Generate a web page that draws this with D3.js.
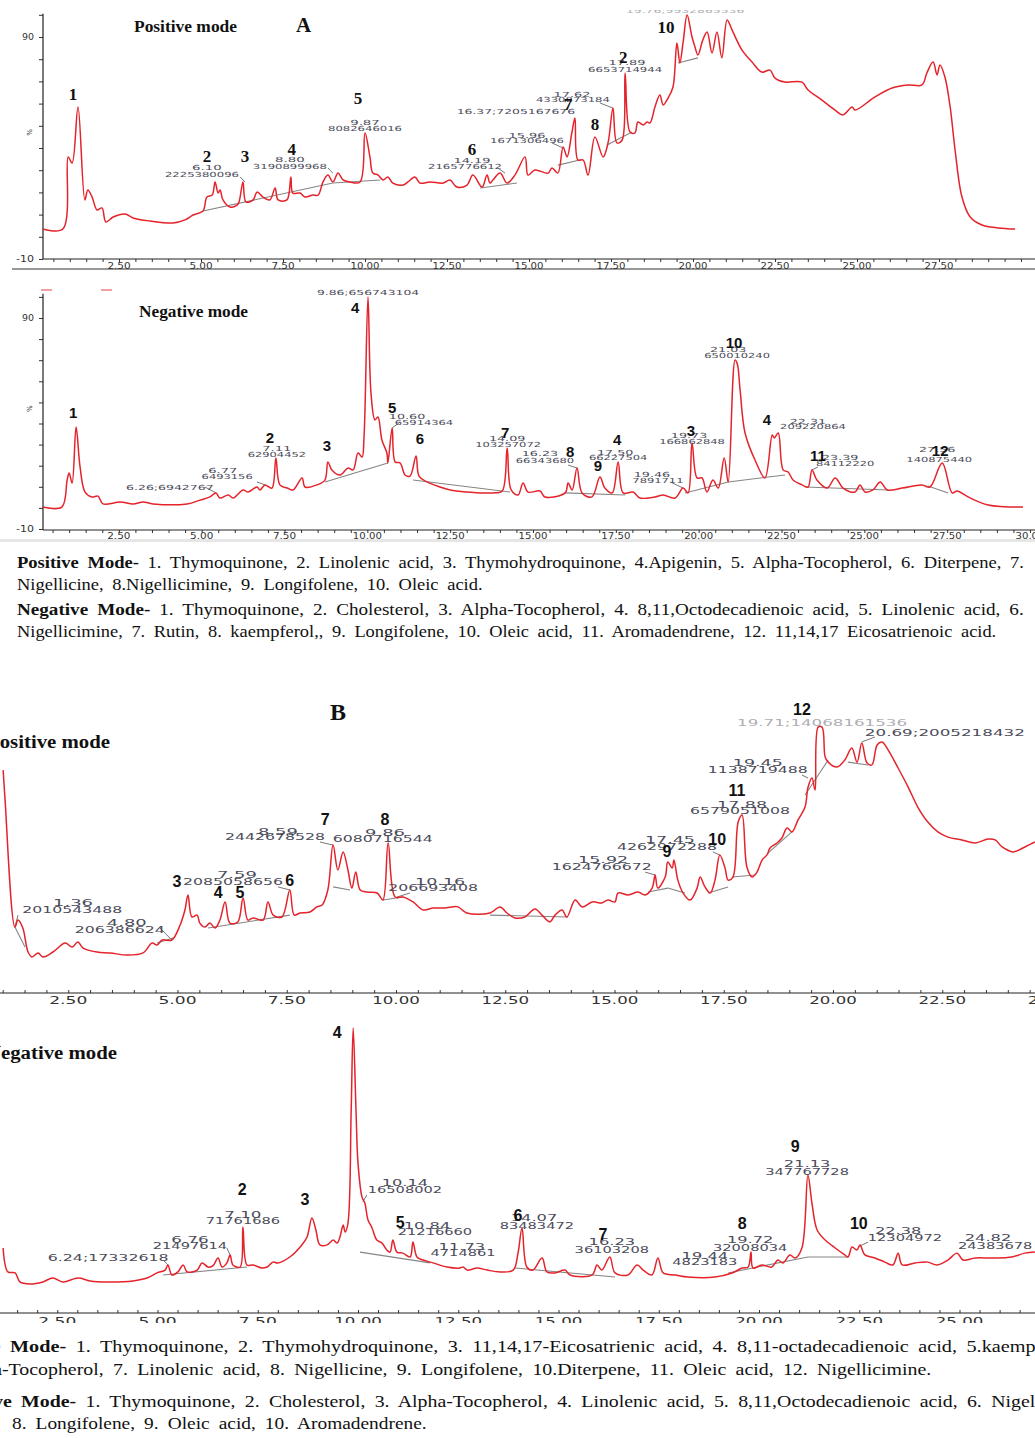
<!DOCTYPE html>
<html><head><meta charset="utf-8">
<script src="https://cdn.jsdelivr.net/npm/d3@7"></script>
<style>body{margin:0;background:#fff} svg{display:block}</style>
</head><body>
<svg id="c" width="1035" height="1438"></svg>
<script>
// ---------------- DATA ----------------
const xTickValues = [2.5,5,7.5,10,12.5,15,17.5,20,22.5,25,27.5,30];

// Panel A, positive mode  [time (min), relative intensity %]
const posATrace = [[0.18,3.5],[0.79,3.5],[0.95,36.0],[1.07,33.2],[1.25,58.5],[1.46,16.6],[1.55,21.1],[1.68,17.9],[1.83,12.1],[1.98,13.0],[2.10,6.7],[2.32,8.9],[2.68,10.3],[2.93,8.5],[3.45,7.1],[4.15,6.2],[4.51,7.6],[4.76,9.8],[5.06,11.6],[5.18,17.9],[5.34,18.8],[5.43,24.7],[5.52,19.7],[5.58,21.1],[5.67,16.6],[5.88,13.4],[6.10,14.3],[6.16,15.7],[6.28,24.7],[6.37,15.7],[6.59,16.6],[6.71,20.2],[6.89,17.9],[7.10,16.6],[7.26,22.0],[7.35,16.6],[7.62,16.6],[7.74,26.9],[7.80,19.7],[8.02,19.7],[8.17,17.9],[8.41,18.8],[8.57,18.8],[8.72,24.7],[8.87,27.8],[9.02,24.7],[9.18,28.7],[9.33,25.6],[9.54,24.7],[9.85,24.7],[10.00,46.8],[10.15,36.0],[10.24,28.7],[10.40,27.8],[10.55,25.6],[10.70,26.9],[10.85,24.2],[11.16,23.3],[11.31,24.7],[11.52,26.9],[11.68,24.2],[11.98,24.7],[12.38,24.2],[12.59,25.6],[12.80,22.4],[13.11,23.3],[13.29,27.8],[13.57,22.4],[13.72,27.8],[13.81,24.2],[13.90,25.6],[14.12,28.7],[14.33,24.2],[14.57,27.8],[14.88,36.0],[14.97,27.8],[15.18,30.1],[15.58,28.7],[15.70,31.0],[15.88,28.7],[16.04,40.5],[16.16,36.0],[16.31,47.2],[16.40,53.5],[16.49,34.6],[16.65,34.6],[16.80,27.8],[17.01,45.0],[17.26,36.0],[17.41,42.3],[17.56,58.0],[17.68,42.3],[17.84,43.6],[17.93,73.8],[18.08,47.2],[18.23,46.8],[18.32,51.7],[18.48,50.4],[18.60,51.7],[18.69,51.3],[18.84,58.5],[18.99,63.9],[19.09,59.4],[19.24,62.5],[19.39,67.5],[19.51,87.3],[19.60,78.3],[19.70,87.8],[19.82,99.9],[19.97,90.0],[20.06,85.5],[20.15,81.9],[20.30,88.7],[20.43,92.3],[20.58,82.8],[20.73,92.3],[20.88,80.6],[21.04,97.7],[21.19,93.2],[21.49,84.2],[21.80,78.7],[22.10,74.2],[22.35,75.1],[22.50,71.5],[22.80,69.7],[23.32,69.7],[23.51,66.1],[23.93,61.6],[24.33,57.1],[24.57,54.9],[24.85,58.5],[24.94,57.1],[25.55,63.0],[26.07,67.0],[26.55,68.4],[26.98,68.4],[27.13,73.8],[27.32,78.7],[27.44,72.9],[27.53,77.4],[27.68,72.0],[27.84,58.5],[27.99,39.1],[28.20,17.9],[28.45,8.9],[28.81,5.3],[29.30,4.0],[29.82,3.5]];
const posABase = [[5.06,11.6,9.02,24.2],[9.02,24.2,10.46,25.6],[13.51,22.0,14.63,24.2],[15.88,32.3,16.55,34.6],[17.38,41.4,18.14,47.2],[19.54,78.3,20.15,80.6]];
const posALeaders = [[6.19,27.0,6.34,24.7],[8.87,31.0,9.02,28.7],[14.05,31.0,14.27,28.7],[15.70,42.3,16.04,40.0],[17.16,60.3,17.56,58.0]];
const posAPeakTags = [[5.18,31.0,"6.10"],[5.03,27.8,"2225380096"],[7.71,34.6,"8.80"],[7.71,31.4,"3190899968"],[10.0,51.3,"9.87"],[10.0,48.6,"8082646016"],[13.26,34.1,"14.19"],[13.05,31.4,"2165776612"],[14.60,56.2,"16.37;7205167676"],[14.94,45.4,"15.96"],[14.94,43.2,"1671306496"],[16.31,63.9,"17.62"],[16.34,61.6,"4330873184"],[17.99,78.3,"17.89"],[17.93,75.1,"6653714944"]];
const posATopTag = [[19.76,101.6,"19.76;9932865536"]];
const posANumbers = [[1.10,63.9,"1"],[5.18,36.0,"2"],[6.34,36.0,"3"],[7.77,39.1,"4"],[9.79,62.5,"5"],[13.26,39.1,"6"],[16.19,59.4,"7"],[17.01,50.4,"8"],[17.87,80.6,"2"],[19.18,94.5,"10"]];

// Panel A, negative mode
const negATrace = [[0.21,0.4],[0.78,0.4],[0.94,13.2],[1.00,16.5],[1.09,11.8],[1.21,38.3],[1.33,19.4],[1.48,7.5],[1.69,5.2],[1.87,5.6],[2.02,1.9],[2.54,2.8],[2.93,1.9],[3.23,2.8],[3.53,1.9],[4.56,1.9],[4.95,3.7],[5.25,5.2],[5.43,7.1],[5.55,4.7],[5.80,6.1],[5.95,4.7],[6.25,8.5],[6.40,7.5],[6.67,9.9],[6.76,8.5],[6.91,10.9],[7.12,9.4],[7.24,23.7],[7.36,10.9],[7.58,9.4],[7.76,8.5],[8.03,14.2],[8.12,9.9],[8.48,10.9],[8.72,13.2],[8.81,21.8],[8.93,18.0],[9.18,15.6],[9.42,18.9],[9.57,18.0],[9.72,26.0],[9.84,24.1],[9.90,33.6],[10.02,100.0],[10.11,54.5],[10.23,41.7],[10.32,43.1],[10.44,32.2],[10.59,26.0],[10.62,21.3],[10.75,37.9],[10.84,21.8],[10.99,21.3],[11.14,15.6],[11.29,15.1],[11.47,24.6],[11.56,15.1],[11.80,12.3],[12.19,9.9],[12.50,8.5],[13.01,7.5],[13.40,7.1],[13.79,7.1],[14.07,8.0],[14.22,28.4],[14.34,8.5],[14.55,6.1],[14.70,11.8],[14.85,7.5],[15.21,8.0],[15.36,5.2],[15.97,7.1],[16.06,11.8],[16.18,8.5],[16.33,18.9],[16.48,7.1],[16.78,5.2],[17.02,14.6],[17.17,9.4],[17.39,7.1],[17.57,21.8],[17.72,7.1],[18.02,7.5],[18.23,4.7],[18.68,5.2],[18.93,6.1],[19.29,4.7],[19.53,9.4],[19.68,7.1],[19.80,30.8],[19.95,14.2],[20.10,14.2],[20.25,7.5],[20.43,13.2],[20.59,9.4],[20.77,23.7],[20.89,12.3],[21.10,70.1],[21.17,68.0],[21.25,55.9],[21.40,35.5],[21.70,22.7],[22.00,14.2],[22.22,34.6],[22.28,33.1],[22.40,35.5],[22.55,18.0],[22.70,17.0],[22.85,13.2],[23.12,10.9],[23.30,9.9],[23.42,18.0],[23.57,13.2],[23.88,9.4],[24.12,14.2],[24.36,9.4],[24.72,7.5],[24.87,10.9],[25.02,7.5],[25.26,8.5],[25.48,12.3],[25.69,8.5],[26.14,9.4],[26.74,10.9],[26.98,9.9],[27.35,21.3],[27.65,7.1],[27.80,8.0],[28.13,5.2],[28.74,1.4],[29.79,0.4]];
const negABase = [[8.72,12.3,10.62,21.3],[11.38,13.2,14.31,7.5],[15.97,7.1,17.78,6.1],[19.59,7.1,20.89,12.3],[20.89,12.3,22.61,15.6],[23.21,9.9,25.72,8.5],[26.92,10.4,27.53,7.1]];
const negALeaders = [[5.10,9.9,5.43,7.1],[6.67,12.3,6.91,10.9],[10.75,37.9,10.99,40.7],[16.06,20.3,16.33,18.9],[19.14,12.3,19.53,9.4],[23.42,18.0,23.60,19.4]];
const negAPeakTags = [[10.02,101.9,"9.86;656743104"],[7.27,27.9,"7.11"],[7.27,25.1,"62904452"],[5.64,17.5,"6.77"],[5.77,14.6,"6493156"],[4.04,9.4,"6.26;6942767"],[11.20,43.1,"10.60"],[11.71,40.2,"65914364"],[14.22,32.7,"14.09"],[14.25,29.8,"103257072"],[15.21,25.6,"16.23"],[15.36,22.2,"66343680"],[17.48,26.0,"17.50"],[17.57,23.7,"66227504"],[18.59,15.6,"19.46"],[18.77,12.8,"7891711"],[19.71,34.1,"19.73"],[19.80,31.2,"166862848"],[20.89,74.8,"21.03"],[21.16,72.0,"650010240"],[23.30,40.7,"22.31"],[23.45,38.3,"209220864"],[24.27,23.7,"23.39"],[24.42,20.8,"84112220"],[27.20,27.4,"27.56"],[27.26,22.7,"140875440"]];
const negANumbers = [[1.12,45.0,"1"],[7.06,33.6,"2"],[8.78,29.8,"3"],[9.63,95.2,"4"],[10.75,47.4,"5"],[11.59,33.1,"6"],[14.16,35.5,"7"],[16.12,26.5,"8"],[16.96,20.3,"9"],[17.54,32.2,"4"],[19.77,36.9,"3"],[21.07,78.2,"10"],[22.06,41.7,"4"],[23.60,24.6,"11"],[27.29,27.4,"12"]];

// Panel B, positive mode
const posBTrace = [[1.01,80.8],[1.05,69.4],[1.28,14.0],[1.35,17.0],[1.46,13.6],[1.58,3.4],[1.67,1.3],[1.81,3.0],[1.92,1.3],[2.15,3.4],[2.43,7.2],[2.59,5.5],[2.72,7.7],[2.84,5.1],[3.16,3.4],[3.46,3.0],[3.84,2.1],[4.21,3.0],[4.42,7.2],[4.53,6.4],[4.65,8.5],[4.87,8.5],[5.06,14.9],[5.17,21.3],[5.24,27.7],[5.33,18.3],[5.45,19.1],[5.51,15.7],[5.63,14.0],[5.74,15.7],[5.86,13.6],[5.97,17.0],[6.09,24.7],[6.20,15.7],[6.38,16.2],[6.50,26.4],[6.61,17.0],[6.73,17.9],[6.96,17.0],[7.07,24.7],[7.19,19.1],[7.39,18.3],[7.57,29.8],[7.67,19.1],[7.80,20.0],[8.03,20.4],[8.19,22.6],[8.31,23.4],[8.44,29.8],[8.56,48.9],[8.67,38.3],[8.79,46.0],[8.90,38.3],[8.99,30.6],[9.08,37.4],[9.18,29.8],[9.34,28.9],[9.57,28.5],[9.70,25.5],[9.82,49.8],[9.98,26.8],[10.16,26.8],[10.39,24.7],[10.62,21.3],[10.85,22.1],[11.08,22.1],[11.28,22.6],[11.42,22.6],[11.62,20.0],[12.15,20.0],[12.38,22.6],[12.54,20.0],[12.72,17.9],[12.95,18.3],[13.18,21.7],[13.34,19.1],[13.52,16.2],[13.64,19.1],[13.80,21.3],[13.91,18.3],[14.10,25.5],[14.26,22.6],[14.49,24.7],[14.71,24.3],[14.85,25.5],[15.01,24.7],[15.08,28.5],[15.31,27.7],[15.54,28.9],[15.70,27.7],[15.86,30.6],[15.93,36.2],[15.99,30.6],[16.16,35.3],[16.22,41.7],[16.32,39.1],[16.36,42.6],[16.45,34.0],[16.57,28.5],[16.73,25.5],[16.89,30.6],[16.96,35.3],[17.07,31.1],[17.19,28.5],[17.30,34.0],[17.41,44.7],[17.53,39.1],[17.60,34.0],[17.71,35.3],[17.83,58.7],[17.92,61.7],[18.03,39.6],[18.15,35.3],[18.26,37.4],[18.38,42.6],[18.49,44.7],[18.56,47.7],[18.72,49.8],[18.83,51.9],[18.95,56.2],[19.06,54.5],[19.20,59.6],[19.36,65.1],[19.43,73.6],[19.52,77.4],[19.59,72.3],[19.66,99.1],[19.75,99.1],[19.82,86.4],[19.89,84.2],[20.09,82.1],[20.27,85.1],[20.43,90.2],[20.55,84.2],[20.66,92.3],[20.78,83.8],[20.89,83.0],[21.01,91.5],[21.12,92.8],[21.26,89.4],[21.49,81.7],[21.72,73.6],[21.94,65.1],[22.17,58.7],[22.40,54.5],[22.63,52.3],[22.95,51.1],[23.25,49.8],[23.55,51.5],[23.71,51.1],[23.87,48.1],[24.12,46.0],[24.39,48.1],[24.62,50.2]];
const posBBase = [[1.28,14.0,1.51,5.5],[4.53,7.2,4.90,9.4],[5.70,13.6,7.57,19.1],[8.56,31.1,8.95,29.8],[9.70,25.5,10.16,26.8],[12.15,19.1,13.94,18.3],[15.77,28.9,16.22,30.6],[16.22,30.6,16.61,28.5],[17.14,28.5,17.60,31.1],[17.69,35.3,18.22,36.2],[18.51,45.5,19.06,54.5],[19.36,70.2,19.89,85.1],[20.34,84.2,20.80,83.0]];
const posBLeaders = [[1.35,19.1,1.28,14.0],[4.60,13.6,4.87,8.5],[7.30,31.1,7.57,29.8],[8.26,50.2,8.56,48.9],[10.02,26.8,10.32,28.5],[15.70,37.4,15.93,36.2],[17.25,46.0,17.41,44.7],[19.29,78.7,19.43,77.4],[20.66,92.8,20.96,94.9]];
const posBPeakTags = [[2.61,24.3,"1.36"],[2.59,21.3,"2010543488"],[3.84,15.7,"4.80"],[3.68,12.8,"206386624"],[6.36,36.2,"7.59"],[6.27,33.2,"2085058656"],[7.30,54.5,"8.59"],[7.23,52.3,"2442678528"],[9.75,54.0,"9.86"],[9.70,51.5,"6080716544"],[11.01,33.2,"10.16"],[10.85,30.6,"206693408"],[14.74,42.6,"15.92"],[14.71,39.6,"1624766672"],[16.27,51.1,"17.45"],[16.20,48.1,"4262972288"],[17.92,66.0,"17.88"],[17.87,63.4,"6579051008"],[18.28,83.8,"19.45"],[18.28,80.8,"1138719488"],[22.56,96.6,"20.69;2005218432"]];
const posBTopTag = [[19.75,100.9,"19.71;14068161536"]];
const posBNumbers = [[4.99,33.2,"3"],[5.93,28.9,"4"],[6.43,28.9,"5"],[7.57,34.0,"6"],[8.38,59.6,"7"],[9.75,59.6,"8"],[16.20,46.0,"9"],[17.35,51.1,"10"],[17.80,72.3,"11"],[19.29,106.4,"12"]];

// Panel B, negative mode
const negBTrace = [[1.15,14.4],[1.27,5.1],[1.45,4.7],[1.57,1.2],[1.82,0.4],[2.14,1.2],[2.39,2.7],[2.64,1.2],[3.02,2.7],[3.32,1.6],[3.74,1.2],[4.39,1.6],[4.74,2.7],[4.99,4.7],[5.19,5.8],[5.26,7.8],[5.36,3.9],[5.51,5.1],[5.64,7.8],[5.74,5.1],[5.99,5.8],[6.11,8.6],[6.26,7.0],[6.38,7.4],[6.51,10.5],[6.61,7.0],[6.73,8.6],[6.81,11.7],[6.88,7.8],[7.06,7.0],[7.13,22.6],[7.23,7.8],[7.38,7.8],[7.61,6.6],[7.73,7.0],[7.88,8.9],[8.00,8.6],[8.30,10.9],[8.60,15.6],[8.73,18.7],[8.85,26.1],[8.95,21.4],[9.05,15.6],[9.23,15.6],[9.38,17.5],[9.48,16.3],[9.55,18.7],[9.63,23.3],[9.68,20.6],[9.75,24.1],[9.83,68.1],[9.88,100.0],[9.95,68.1],[10.00,47.5],[10.10,34.2],[10.17,31.9],[10.25,25.3],[10.35,22.2],[10.47,17.5],[10.60,16.3],[10.72,13.6],[10.80,12.8],[10.87,17.5],[10.97,12.8],[11.12,12.4],[11.30,10.9],[11.37,16.7],[11.47,10.9],[11.62,9.7],[11.87,8.6],[12.22,7.0],[12.54,6.6],[12.62,7.0],[12.72,5.8],[12.97,6.6],[13.22,5.8],[13.54,5.1],[13.87,5.8],[13.99,12.4],[14.09,22.2],[14.21,7.0],[14.36,5.8],[14.59,10.5],[14.71,5.1],[14.91,4.7],[15.16,5.8],[15.29,3.9],[15.84,3.9],[15.96,7.8],[16.08,5.8],[16.28,10.9],[16.41,4.7],[16.73,3.9],[16.96,7.8],[17.11,5.8],[17.33,3.9],[17.48,10.5],[17.61,4.7],[17.91,3.9],[18.23,3.1],[18.90,3.1],[19.33,4.7],[19.58,6.6],[19.73,7.0],[19.80,12.8],[19.85,6.6],[20.07,7.8],[20.32,7.0],[20.47,9.7],[20.60,8.6],[20.77,11.7],[20.90,10.5],[21.07,14.4],[21.22,42.8],[21.32,31.9],[21.45,21.4],[21.65,17.5],[21.90,14.4],[22.14,11.7],[22.22,10.9],[22.32,14.8],[22.44,13.6],[22.52,15.6],[22.64,11.7],[22.89,10.5],[23.14,8.9],[23.34,7.8],[23.47,12.4],[23.57,7.8],[23.89,8.6],[24.21,8.9],[24.44,7.8],[24.71,9.7],[24.94,12.4],[25.09,9.7],[25.39,10.5],[25.81,10.5],[26.31,10.9],[26.63,12.4],[26.88,12.8]];
const negBBase = [[5.14,3.9,7.23,7.0],[10.05,12.8,11.80,8.6],[13.92,6.6,16.41,3.1],[19.23,4.7,21.22,10.9],[21.22,10.9,22.22,10.9]];
const negBLeaders = [[5.14,9.7,5.26,7.8],[6.73,14.4,6.81,11.7],[10.22,35.0,10.12,32.3],[22.47,14.8,22.72,16.7]];
const negBPeakTags = [[3.77,10.5,"6.24;17332618"],[5.81,17.5,"6.76"],[5.81,15.2,"21497614"],[7.13,27.2,"7.10"],[7.13,24.9,"71761686"],[11.17,39.7,"10.14"],[11.17,37.0,"16508002"],[11.72,23.0,"10.84"],[11.92,20.6,"21216660"],[12.59,14.8,"11.73"],[12.62,12.4,"4714861"],[14.39,26.1,"14.07"],[14.46,23.0,"83483472"],[16.33,16.7,"16.23"],[16.33,13.6,"36103208"],[18.65,11.3,"19.44"],[18.65,8.9,"4823183"],[19.78,17.5,"19.72"],[19.78,14.4,"32008034"],[21.20,47.1,"21.13"],[21.20,44.0,"347767728"],[23.47,21.0,"22.38"],[23.64,18.3,"12304972"],[25.71,18.3,"24.82"],[25.89,15.2,"24383678"]];
const negBNumbers = [[7.11,37.0,"2"],[8.68,33.1,"3"],[9.48,98.4,"4"],[11.05,24.5,"5"],[13.99,27.2,"6"],[16.11,19.5,"7"],[19.58,24.1,"8"],[20.90,53.7,"9"],[22.49,24.1,"10"]];

// Captions
const captionA = [
  [["Positive Mode-",1],[" 1. Thymoquinone, 2. Linolenic acid, 3. Thymohydroquinone, 4.Apigenin, 5. Alpha-Tocopherol, 6. Diterpene, 7.",0]],
  [["Nigellicine, 8.Nigellicimine, 9. Longifolene, 10. Oleic acid.",0]],
  [["Negative Mode-",1],[" 1. Thymoquinone, 2. Cholesterol, 3. Alpha-Tocopherol, 4. 8,11,Octodecadienoic acid, 5. Linolenic acid, 6.",0]],
  [["Nigellicimine, 7. Rutin, 8. kaempferol,, 9. Longifolene, 10. Oleic acid, 11. Aromadendrene, 12. 11,14,17 Eicosatrienoic acid.",0]]
];
const captionB = [
  [["Positive Mode-",1],[" 1. Thymoquinone, 2. Thymohydroquinone, 3. 11,14,17-Eicosatrienic acid, 4. 8,11-octadecadienoic acid, 5.kaempferol, 6. Alpha",0]],
  [["6. Alpha-Tocopherol, 7. Linolenic acid, 8. Nigellicine, 9. Longifolene, 10.Diterpene, 11. Oleic acid, 12. Nigellicimine.",0]],
  [["Negative Mode-",1],[" 1. Thymoquinone, 2. Cholesterol, 3. Alpha-Tocopherol, 4. Linolenic acid, 5. 8,11,Octodecadienoic acid, 6. Nigellicimine, 7. Rutin,",0]],
  [["8. Longifolene, 9. Oleic acid, 10. Aromadendrene.",0]]
];

// ---------------- DRAW ----------------
const svg = d3.select("#c");
svg.append("rect").attr("width",1035).attr("height",1438).attr("fill","#fff");
const RED = "#e4232b", GRAY = "#858585", TAG = "#4c4c5a";
const SERIF = "Liberation Serif, 'Times New Roman', serif";
const SANS = "Liberation Sans, Arial, sans-serif";

function panel(o) {
  const x = d3.scaleLinear().domain([0,30]).range(o.xr);
  const y = d3.scaleLinear().domain(o.yd).range(o.yr);
  const g = svg.append("g");

  const axY = o.axisY;
  const ax = g.append("g").attr("transform",`translate(0,${axY})`)
    .call(d3.axisBottom(x).tickValues(d3.range(0.5,30.01,0.5)).tickSize(o.tickLen).tickFormat(""));
  ax.select(".domain").remove();
  ax.selectAll("line").attr("stroke","#333").attr("stroke-width",1);
  g.append("line").attr("x1",o.axisX0).attr("x2",1035).attr("y1",axY).attr("y2",axY).attr("stroke","#222").attr("stroke-width",1.2);
  if (o.lowerLine) g.append("line").attr("x1",o.lowerLine[0]).attr("x2",1035).attr("y1",o.lowerLine[1]).attr("y2",o.lowerLine[1]).attr("stroke","#333").attr("stroke-width",1.2);
  g.selectAll(".xt").data(xTickValues.filter(d => d <= o.maxTick)).join("text")
    .attr("x",d=>x(d)).attr("y",o.labY).attr("text-anchor","middle").attr("dominant-baseline","central")
    .attr("font-family","DejaVu Sans").attr("font-size",o.tfs).attr("fill","#333")
    .attr("textLength",d=>d3.format(".2f")(d).length*o.tcw).attr("lengthAdjust","spacingAndGlyphs")
    .text(d=>d3.format(".2f")(d));

  if (o.yAxis) {
    const ya = g.append("g").attr("transform",`translate(${o.yAxis},0)`)
      .call(d3.axisLeft(y).tickValues(d3.range(-10,101,10)).tickSize(4).tickFormat(""));
    ya.select(".domain").remove();
    ya.selectAll("line").attr("stroke","#333");
    g.append("line").attr("x1",o.yAxis).attr("x2",o.yAxis).attr("y1",y(o.yTop)).attr("y2",axY).attr("stroke","#222").attr("stroke-width",1.2);
    g.selectAll(".yl").data([-10,90]).join("text").attr("x",o.yAxis-9).attr("y",d=>y(d)).attr("text-anchor","end")
      .attr("dominant-baseline","central").attr("font-family","DejaVu Sans").attr("font-size",8).attr("fill","#333")
      .attr("textLength",d=>String(d).length*6).attr("lengthAdjust","spacingAndGlyphs").text(d=>d);
    g.append("text").attr("transform",`translate(${o.yAxis-13},${y(47)}) rotate(-90)`).attr("text-anchor","middle")
      .attr("dominant-baseline","central").attr("font-family","DejaVu Sans").attr("font-size",7).attr("fill","#333").text("%");
  }

  g.selectAll(".bl").data(o.base).join("line")
    .attr("x1",d=>x(d[0])).attr("y1",d=>y(d[1])).attr("x2",d=>x(d[2])).attr("y2",d=>y(d[3]))
    .attr("stroke",GRAY).attr("stroke-width",1.1);
  g.selectAll(".ld").data(o.leaders).join("line")
    .attr("x1",d=>x(d[0])).attr("y1",d=>y(d[1])).attr("x2",d=>x(d[2])).attr("y2",d=>y(d[3]))
    .attr("stroke","#666").attr("stroke-width",0.9);

  g.append("path").datum(o.trace)
    .attr("d", d3.line().x(d=>x(d[0])).y(d=>y(d[1])).curve(d3.curveCatmullRom.alpha(0.5)))
    .attr("fill","none").attr("stroke",RED).attr("stroke-width",1.5).attr("stroke-linejoin","round");

  const tagText = (sel, data, op) => sel.selectAll(null).data(data).join("text")
    .attr("x",d=>x(d[0])).attr("y",d=>y(d[1])).attr("text-anchor","middle").attr("dominant-baseline","central")
    .attr("font-family","DejaVu Sans").attr("font-size",o.afs).attr("fill",TAG).attr("opacity",op)
    .attr("textLength",d=>d[2].length*o.acw).attr("lengthAdjust","spacingAndGlyphs")
    .text(d=>d[2]);
  tagText(g, o.tags, 1);
  if (o.topTag) tagText(g, o.topTag, 0.45);

  g.selectAll(".nm").data(o.nums).join("text")
    .attr("x",d=>x(d[0])).attr("y",d=>y(d[1])).attr("text-anchor","middle").attr("dominant-baseline","central")
    .attr("font-family",o.nfam).attr("font-weight","bold").attr("font-size",o.nfs).attr("fill","#111")
    .text(d=>d[2]);
  return g;
}

panel({xr:[37,1021], yd:[-10,90], yr:[259,37], axisY:259, axisX0:43, tickLen:3, lowerLine:[12,269], labY:266, tfs:8, tcw:5.8, maxTick:27.5,
  yAxis:43, yTop:100.5, base:posABase, leaders:posALeaders, trace:posATrace, tags:posAPeakTags, topTag:posATopTag, afs:7, acw:7.4,
  nums:posANumbers, nfam:SERIF, nfs:17});
svg.append("rect").attr("x",600).attr("y",0).attr("width",160).attr("height",10).attr("fill","#fff");
panel({xr:[36,1030], yd:[-10,90], yr:[529,318], axisY:530, axisX0:43, tickLen:3, labY:536, tfs:8, tcw:5.8, maxTick:30,
  yAxis:43, yTop:101.5, base:negABase, leaders:negALeaders, trace:negATrace, tags:negAPeakTags, afs:7, acw:7.3,
  nums:negANumbers, nfam:SANS, nfs:15});
svg.append("rect").attr("x",0).attr("y",539).attr("width",1035).attr("height",3).attr("fill","#e6e6e6");
panel({xr:[-41,1270], yd:[0,100], yr:[960,725], axisY:993, axisX0:0, tickLen:-3, labY:1000, tfs:10, tcw:9.5, maxTick:30,
  base:posBBase, leaders:posBLeaders, trace:posBTrace, tags:posBPeakTags, topTag:posBTopTag, afs:9, acw:10,
  nums:posBNumbers, nfam:SANS, nfs:16});
panel({xr:[-43,1160], yd:[0,100], yr:[1285,1028], axisY:1313, axisX0:0, tickLen:-3, labY:1321, tfs:10, tcw:9.5, maxTick:30,
  base:negBBase, leaders:negBLeaders, trace:negBTrace, tags:negBPeakTags, afs:9, acw:9.3,
  nums:negBNumbers, nfam:SANS, nfs:16});
svg.append("rect").attr("x",0).attr("y",1323).attr("width",1035).attr("height",12).attr("fill","#fff");

// legend remnants at top of negative A panel
svg.append("line").attr("x1",41).attr("x2",52).attr("y1",290).attr("y2",290).attr("stroke","#f08080").attr("stroke-width",1.5);
svg.append("line").attr("x1",101).attr("x2",112).attr("y1",290).attr("y2",290).attr("stroke","#f08080").attr("stroke-width",1.5);

// headings
function head(txt, x, y, size, anchor, len) {
  const t = svg.append("text").attr("x",x).attr("y",y).attr("text-anchor",anchor||"start")
    .attr("font-family",SERIF).attr("font-weight","bold").attr("font-size",size).attr("fill","#111").text(txt);
  if (len) t.attr("textLength",len).attr("lengthAdjust","spacingAndGlyphs");
}
head("Positive mode", 134, 32, 16, "start", 103);
head("A", 296, 32, 21);
head("Negative mode", 139, 317, 16, "start", 109);
head("B", 330, 720, 24);
head("Positive mode", 110, 748, 18, "end", 123);
head("Negative mode", 117, 1059, 18, "end", 131);

// captions
function fitLine(y, parts, startSub, startX, endSub, endX) {
  const t = svg.append("text").attr("y", y).attr("font-family",SERIF).attr("font-size",16).attr("fill","#111");
  parts.forEach(p => t.append("tspan").attr("font-weight", p[1] ? "bold" : null).text(p[0]));
  const full = parts.map(p => p[0]).join("");
  const si = full.indexOf(startSub), ei = full.lastIndexOf(endSub) + endSub.length - 1;
  const node = t.node();
  let sx = node.getStartPositionOfChar(si).x, ex = node.getEndPositionOfChar(ei).x;
  const nsp = (full.slice(si, ei + 1).match(/ /g) || []).length;
  let ws = nsp ? ((endX - startX) - (ex - sx)) / nsp : 0;
  ws = Math.max(-1, Math.min(ws, 3.5));
  t.style("word-spacing", ws + "px");
  sx = node.getStartPositionOfChar(si).x; ex = node.getEndPositionOfChar(ei).x;
  const s = (endX - startX) / (ex - sx);
  t.attr("transform", `translate(${startX - sx * s},0) scale(${s},1)`);
}
fitLine(568, captionA[0], "Positive", 17, "7.", 1025);
fitLine(590, captionA[1], "Nigellicine", 17, "acid.", 483);
fitLine(615, captionA[2], "Negative", 17, "6.", 1025);
fitLine(637, captionA[3], "Nigellicimine", 17, "acid.", 997);
fitLine(1352, captionB[0], "Mode-", 10, "5.kaemp", 1036);
fitLine(1375, captionB[1], "-Tocopherol", 2, "Nigellicimine.", 932);
fitLine(1407, captionB[2], "e Mode-", 3, "6. Nigel", 1036);
fitLine(1429, captionB[3], "8. Longifolene", 12, "Aromadendrene.", 427);
</script>
</body></html>
